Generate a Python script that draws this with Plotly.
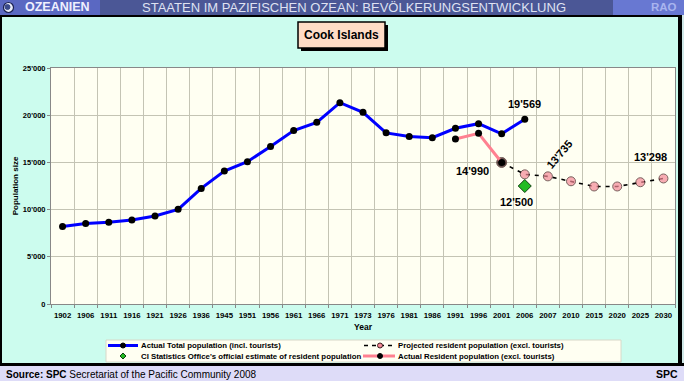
import plotly.graph_objects as go

years = ["1902", "1906", "1911", "1916", "1921", "1926", "1936", "1945", "1951", "1956",
         "1961", "1966", "1971", "1973", "1976", "1981", "1986", "1991", "1996", "2001",
         "2006", "2007", "2010", "2015", "2020", "2025", "2030"]

total_years = years[:21]
total_pop = [8213, 8518, 8665, 8900, 9320, 10030, 12246, 14088, 15079, 16680,
             18378, 19247, 21323, 20300, 18128, 17754, 17614, 18617, 19103, 18027, 19569]

resident_years = ["1991", "1996", "2001"]
resident_pop = [17480, 18080, 14990]

proj_years = ["2001", "2006", "2007", "2010", "2015", "2020", "2025", "2030"]
proj_pop = [14990, 13735, 13520, 13000, 12450, 12450, 12900, 13298]

estimate_years = ["2006"]
estimate_pop = [12500]

legend_labels = [
    "Actual Total population (incl. tourists)",
    "Projected resident population (excl. tourists)",
    "CI Statistics Office's official estimate of resident population",
    "Actual Resident population (excl. tourists)",
]

FONT = "Arial, Liberation Sans, sans-serif"
W, H = 684, 381
L, R, T, B = 51, 675, 68, 304   # plot area in pixels

BLUE = "#0000ff"
PINK = "#ff8090"
PINKM = "#f58a98"
GREEN = "#22bb22"


def X(px):
    return px / W


def Y(py):
    return 1 - py / H


def fmt(v):
    return f"{v:,}".replace(",", "'")


def idx(year):
    return years.index(year)


fig = go.Figure()

fig.add_trace(go.Scatter(
    x=total_years, y=total_pop, mode="lines+markers", name=legend_labels[0],
    line=dict(color=BLUE, width=3), marker=dict(color="#000000", size=7),
))
fig.add_trace(go.Scatter(
    x=proj_years, y=proj_pop, mode="lines+markers", name=legend_labels[1],
    line=dict(color="#000000", width=1.6, dash="4px,5px"),
    marker=dict(color=["#2a0a0a"] + [PINKM] * (len(proj_years) - 1),
                size=[10] + [9] * (len(proj_years) - 1),
                line=dict(color="#402020", width=1)),
))
fig.add_trace(go.Scatter(
    x=estimate_years, y=estimate_pop, mode="markers", name=legend_labels[2],
    marker=dict(color=GREEN, size=10, symbol="diamond", line=dict(color="#104010", width=1)),
))
fig.add_trace(go.Scatter(
    x=resident_years, y=resident_pop, mode="lines+markers", name=legend_labels[3],
    line=dict(color=PINK, width=3), marker=dict(color="#000000", size=7),
))

shapes = []


def rect(x0, y0, x1, y1, color, line=None):
    shapes.append(dict(type="rect", xref="paper", yref="paper",
                       x0=X(x0), x1=X(x1), y0=Y(y1), y1=Y(y0),
                       fillcolor=color, line=line or dict(width=0), layer="below"))


def dot(cx, cy, r, fill, edge=None, width=1):
    shapes.append(dict(type="circle", xref="paper", yref="paper",
                       x0=X(cx - r), x1=X(cx + r), y0=Y(cy + r), y1=Y(cy - r),
                       fillcolor=fill, line=dict(color=edge or fill, width=width)))


# banner
rect(0, 0, W, 15, "#4b5796")
rect(0, 0, 100, 15, "#5a68c2")
rect(613, 0, W, 15, "#6878d2")
dot(8.5, 7.5, 5, "#e8ecf8", "#1a2050", 1.2)
dot(7.5, 7, 2.5, "#3a4a8a")
# frame
rect(0, 15, W, 17, "#000000")
rect(0, 15, 2, 366, "#000000")
rect(678, 15, 682, 366, "#000000")
rect(682, 15, W, 366, "#d0e8e8")
rect(0, 363, W, 366, "#000000")
# footer
rect(0, 366, W, 381, "#dedcf8")
# title box with shadow
rect(301, 25, 388, 51, "#000000")
rect(298, 22, 385, 48, "#ffdcc6", dict(color="#000000", width=1.5))

# manual legend
rect(106, 340, 621, 362, "#fffff2", dict(color="#d8d8c8", width=1))
r1, r2 = 345.5, 356


def hline(x0, x1, y, color, width, dash="solid"):
    shapes.append(dict(type="line", xref="paper", yref="paper",
                       x0=X(x0), x1=X(x1), y0=Y(y), y1=Y(y),
                       line=dict(color=color, width=width, dash=dash)))


hline(108, 138, r1, BLUE, 3)
dot(123, r1, 2.5, "#000000")
hline(364, 395, r1, "#000000", 1.5, "4px,4px")
dot(380, r1, 2.5, PINKM, "#402020")
shapes.append(dict(type="path", xref="paper", yref="paper",
                   path=(f"M {X(123)} {Y(r2 - 3)} L {X(126)} {Y(r2)} "
                         f"L {X(123)} {Y(r2 + 3)} L {X(120)} {Y(r2)} Z"),
                   fillcolor=GREEN, line=dict(color="#104010", width=1)))
hline(363, 395, r2, PINK, 3)
dot(380, r2, 2.5, "#000000")

leg_font = dict(family=FONT, size=7.8, color="#000000", weight="bold")
annotations = []
for txt, lx, ly in [(legend_labels[0], 139, r1), (legend_labels[1], 396, r1),
                    (legend_labels[2], 139, r2), (legend_labels[3], 396, r2)]:
    annotations.append(dict(text=txt, x=X(lx), y=Y(ly), xref="paper", yref="paper",
                            xanchor="left", yanchor="middle", showarrow=False, font=leg_font))

annotations += [
    dict(text="OZEANIEN", x=X(23), y=Y(7.5), xref="paper", yref="paper",
         xanchor="left", yanchor="middle", showarrow=False,
         font=dict(family=FONT, size=12.5, color="#f0f0ff", weight="bold")),
    dict(text="STAATEN IM PAZIFISCHEN OZEAN: BEVÖLKERUNGSENTWICKLUNG", x=X(354), y=Y(7.5),
         xref="paper", yref="paper", xanchor="center", yanchor="middle", showarrow=False,
         font=dict(family=FONT, size=13, color="#dfe2f2")),
    dict(text="RAO", x=X(679), y=Y(7.5), xref="paper", yref="paper",
         xanchor="right", yanchor="middle", showarrow=False,
         font=dict(family=FONT, size=11.5, color="#a8b4ee", weight="bold")),
    dict(text="Cook Islands", x=X(341.5), y=Y(35), xref="paper", yref="paper",
         xanchor="center", yanchor="middle", showarrow=False,
         font=dict(family=FONT, size=12, color="#000000", weight="bold")),
    dict(text="<b>Source: SPC</b> Secretariat of the Pacific Community 2008", x=X(4), y=Y(374),
         xref="paper", yref="paper", xanchor="left", yanchor="middle", showarrow=False,
         font=dict(family=FONT, size=10, color="#000000")),
    dict(text="SPC", x=X(680), y=Y(374), xref="paper", yref="paper",
         xanchor="right", yanchor="middle", showarrow=False,
         font=dict(family=FONT, size=10.5, color="#000000", weight="bold")),
]

lab_font = dict(family=FONT, size=11, color="#000000", weight="bold")
annotations += [
    dict(text=fmt(total_pop[-1]), x=idx(total_years[-1]), y=total_pop[-1], showarrow=False,
         yshift=15, font=lab_font),
    dict(text=fmt(resident_pop[-1]), x=idx(resident_years[-1]), y=resident_pop[-1],
         showarrow=False, xshift=-29, yshift=-9, font=lab_font),
    dict(text=fmt(estimate_pop[0]), x=idx(estimate_years[0]), y=estimate_pop[0],
         showarrow=False, xshift=-8, yshift=-16, font=lab_font),
    dict(text=fmt(proj_pop[1]), x=idx(proj_years[1]), y=proj_pop[1], showarrow=False,
         xshift=35, yshift=20, textangle=-50, font=lab_font),
    dict(text=fmt(proj_pop[-1]), x=idx(proj_years[-1]), y=proj_pop[-1], showarrow=False,
         xshift=-13, yshift=21, font=lab_font),
]

fig.update_layout(
    width=W, height=H,
    margin=dict(l=0, r=0, t=0, b=0, pad=0),
    paper_bgcolor="#ccfcee",
    plot_bgcolor="#fffff2",
    separators=".'",
    showlegend=False,
    shapes=shapes,
    annotations=annotations,
    font=dict(family=FONT, color="#000000"),
)

fig.update_xaxes(
    domain=[L / W, R / W], automargin=False,
    type="category", categoryorder="array", categoryarray=years,
    tickson="boundaries", showgrid=True, gridcolor="#c4c4b4", gridwidth=1,
    ticks="outside", ticklen=3, tickcolor="#888888", tickangle=0,
    ticklabelstandoff=4,
    showline=True, linecolor="#888888", mirror=True,
    tickfont=dict(family=FONT, size=7.8, color="#000000", weight="bold"),
    title=dict(text="Year", standoff=4,
               font=dict(family=FONT, size=8.5, color="#000000", weight="bold")),
    range=[-0.5, len(years) - 0.5],
)
fig.update_yaxes(
    domain=[1 - B / H, 1 - T / H], automargin=False,
    range=[0, 25000], dtick=5000, tickformat=",d",
    showgrid=True, gridcolor="#c4c4b4", gridwidth=1,
    ticks="outside", ticklen=3, tickcolor="#888888",
    showline=True, linecolor="#888888", mirror=True, zeroline=False,
    tickfont=dict(family=FONT, size=7.5, color="#000000", weight="bold"),
    title=dict(text="Population size", standoff=3,
               font=dict(family=FONT, size=8, color="#000000", weight="bold")),
)

fig.write_html("out.html", config={"displayModeBar": False},
               post_script="document.body.style.margin='0px';")
